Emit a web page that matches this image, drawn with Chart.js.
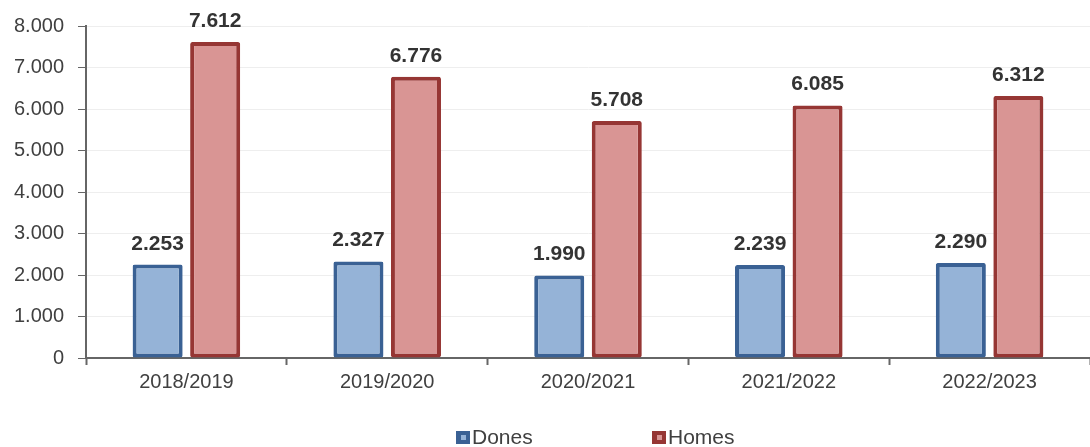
<!DOCTYPE html>
<html>
<head>
<meta charset="utf-8">
<script src="https://cdn.jsdelivr.net/npm/chart.js@4.4.0/dist/chart.umd.min.js"></script>
<style>
  body { margin: 0; background: #fff; }
  #wrap { width: 1090px; height: 447px; position: relative; }
</style>
</head>
<body>
<div id="wrap"><canvas id="barsChart"></canvas></div>
<script>
const categories = ['2018/2019', '2019/2020', '2020/2021', '2021/2022', '2022/2023'];
const dones = [2253, 2327, 1990, 2239, 2290];
const homes = [7612, 6776, 5708, 6085, 6312];
const seriesNames = ['Dones', 'Homes'];
const fillColors = ['#95b3d7', '#d99594'];
const edgeColors = ['#3a6194', '#963634'];

const fmt = v => Math.round(v).toString().replace(/\B(?=(\d{3})+(?!\d))/g, '.');
const fontFamily = '"Liberation Sans", Arial, sans-serif';

// value labels above bars
const barLabels = {
  id: 'barLabels',
  afterDatasetsDraw(chart) {
    const ctx = chart.ctx;
    ctx.save();
    ctx.font = 'bold 21px ' + fontFamily;
    ctx.fillStyle = '#333333';
    ctx.textAlign = 'center';
    ctx.textBaseline = 'alphabetic';
    chart.data.datasets.forEach((ds, i) => {
      chart.getDatasetMeta(i).data.forEach((bar, j) => {
        ctx.fillText(fmt(ds.data[j]), bar.x, bar.y - 15);
      });
    });
    ctx.restore();
  }
};

// legend at the bottom, wide spacing like the original
const bottomLegend = {
  id: 'bottomLegend',
  afterDraw(chart) {
    const ctx = chart.ctx;
    const y = 437;
    const starts = [456, 652];
    ctx.save();
    ctx.font = '21px ' + fontFamily;
    ctx.textBaseline = 'middle';
    ctx.textAlign = 'left';
    seriesNames.forEach((name, i) => {
      const x = starts[i];
      ctx.fillStyle = edgeColors[i];
      ctx.fillRect(x, y - 6, 14, 13);
      ctx.fillStyle = fillColors[i];
      ctx.fillRect(x + 5, y - 2, 5, 5);
      ctx.fillStyle = '#404040';
      ctx.fillText(name, x + 16, y + 1);
    });
    ctx.restore();
  }
};

new Chart(document.getElementById('barsChart'), {
  type: 'bar',
  data: {
    labels: categories,
    datasets: [
      {
        label: seriesNames[0],
        data: dones,
        backgroundColor: fillColors[0],
        borderColor: edgeColors[0],
        borderWidth: 4,
        borderRadius: 2,
        borderSkipped: false
      },
      {
        label: seriesNames[1],
        data: homes,
        backgroundColor: fillColors[1],
        borderColor: edgeColors[1],
        borderWidth: 4,
        borderRadius: 2,
        borderSkipped: false
      }
    ]
  },
  options: {
    responsive: true,
    maintainAspectRatio: false,
    animation: false,
    categoryPercentage: 0.573,
    barPercentage: 0.87,
    layout: { padding: { top: 26, right: 0, bottom: 47, left: 0 } },
    plugins: {
      legend: { display: false },
      tooltip: { enabled: false }
    },
    scales: {
      x: {
        grid: {
          drawOnChartArea: false,
          drawTicks: true,
          tickLength: 7,
          tickColor: '#666666',
          tickWidth: 2
        },
        border: { color: '#666666', width: 2 },
        ticks: {
          color: '#404040',
          font: { family: fontFamily, size: 20 },
          padding: 5
        },
        afterFit: s => { s.height = 42; }
      },
      y: {
        min: 0,
        max: 8000,
        grid: {
          color: '#eeeeee',
          lineWidth: 1,
          tickLength: 8,
          tickColor: '#666666'
        },
        border: { color: '#666666', width: 2 },
        ticks: {
          stepSize: 1000,
          color: '#404040',
          font: { family: fontFamily, size: 20 },
          padding: 14,
          callback: v => fmt(v)
        },
        afterFit: s => { s.width = 86; }
      }
    }
  },
  plugins: [barLabels, bottomLegend]
});
</script>
</body>
</html>
